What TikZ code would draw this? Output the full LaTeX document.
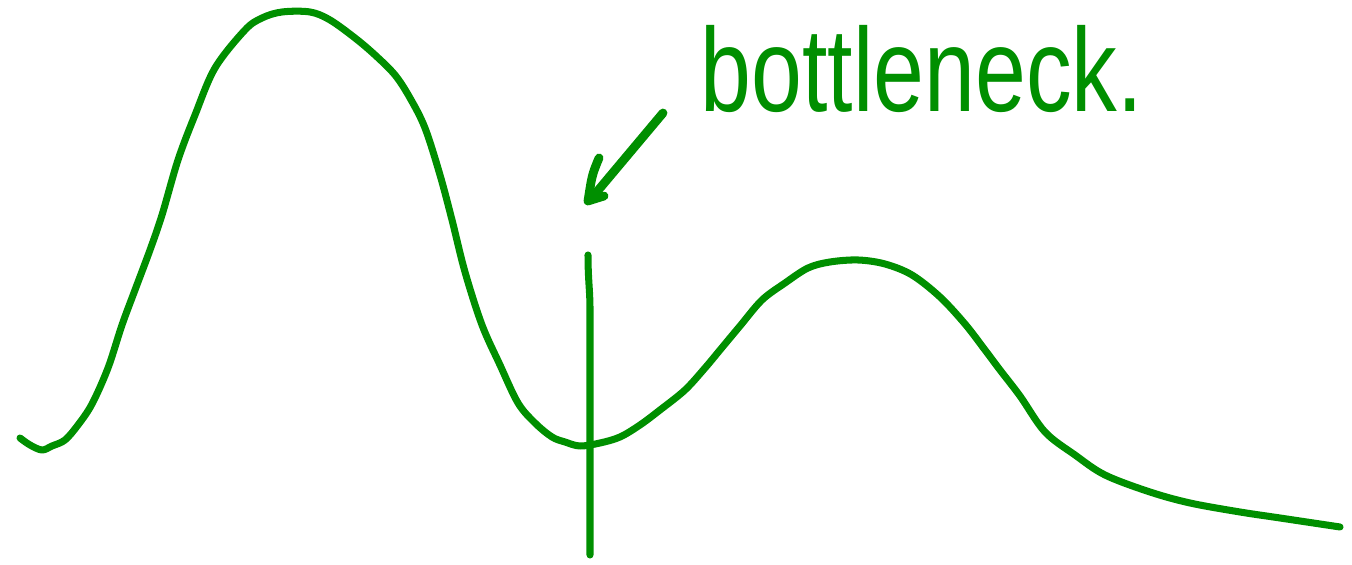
\documentclass[tikz,border=0pt]{standalone}
\usepackage{fontspec}
\setmainfont{Liberation Sans}
\usepackage{xcolor}
\definecolor{cPen}{HTML}{008F00}
\usepackage{tikz}
\usetikzlibrary{positioning,calc}
\tikzset{
  pen/.style={draw=cPen,line width=2pt,line cap=round,line join=round},
  pen-bold/.style={pen,line width=2.5pt},
  pen-text/.style={text=cPen,font=\fontsize{26}{30}\selectfont,inner sep=0pt},
}

\begin{document}
\begin{tikzpicture}[x=0.01cm,y=-0.01cm]
  \useasboundingbox (0,0) rectangle (1352,565);
  % two humps, the dip between them is the bottleneck
  \draw[pen] plot[smooth,tension=0.55] coordinates {
    (20,438) (30,445) (42,450) (52,446) (65,440) (78,425) (92,404)
    (108,368) (122,325) (135,290) (150,250) (162,215) (178,160) (195,115)
    (215,68) (245,30) (262,18) (282,12) (310,12) (330,20) (355,38) (375,55)
    (395,75) (410,98) (425,128) (440,175) (452,220) (465,272) (482,325)
    (500,365) (518,403) (535,423) (552,437) (565,442) (580,446) (600,443)
    (620,437) (640,425) (660,410) (685,390) (705,368) (720,350) (740,326)
    (762,300) (785,283) (808,268) (830,262) (858,260) (885,264) (912,275)
    (940,297) (965,324) (985,350) (1000,370) (1020,396) (1045,432)
    (1075,455) (1105,475) (1150,492) (1190,503) (1240,512) (1280,518)
    (1340,527)};
  % cut line
  \coordinate (neck) at (588,255);
  \coordinate (foot) at (590,555);
  \draw[pen] (neck) .. controls (588,280) and (590,290) .. (590,310) -- (foot);
  % label and arrow
  \node[pen-text,anchor=base west,yscale=1.3,transform shape] (label) at (700,112) {bottleneck.};
  \coordinate (tail) at (663,113);
  \coordinate (tip)  at (590,200);
  \draw[pen-bold] (tail) -- (tip);
  \draw[pen-bold] (599,158) .. controls (592,175) .. (588,201) -- (604,196);
\end{tikzpicture}
\end{document}
